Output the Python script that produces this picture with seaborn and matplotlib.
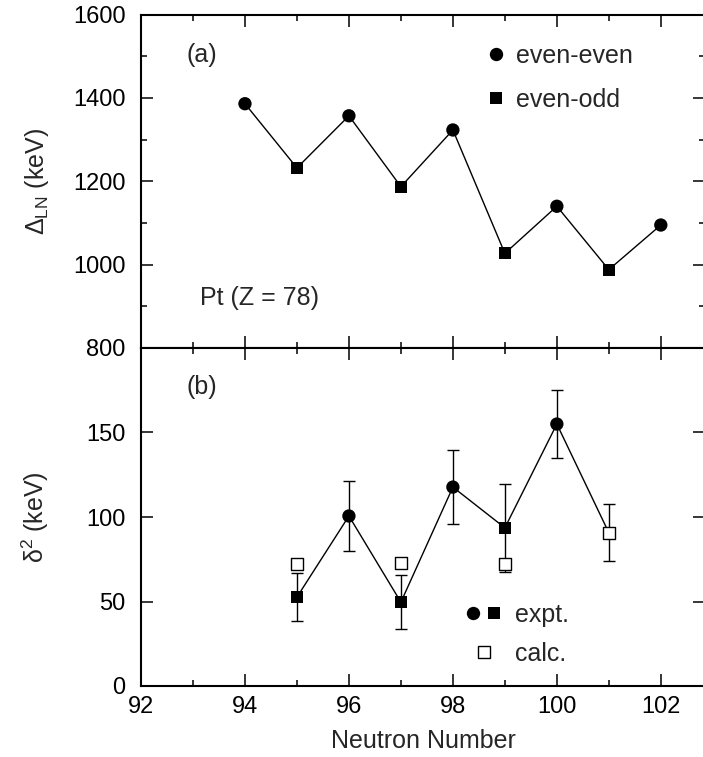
import matplotlib
matplotlib.use("Agg")
import matplotlib.pyplot as plt
import pandas as pd
import seaborn as sns
from matplotlib.lines import Line2D
from matplotlib.legend_handler import HandlerTuple
from matplotlib.ticker import MultipleLocator, NullLocator

# ---- data -------------------------------------------------------------
# (a) odd-even staggering Delta_LN for Pt isotopes
neutrons_a = [94, 95, 96, 97, 98, 99, 100, 101, 102]
delta_ln = [1386, 1232, 1357, 1187, 1323, 1027, 1140, 988, 1095]
parity_a = ["even-even", "even-odd", "even-even", "even-odd", "even-even",
            "even-odd", "even-even", "even-odd", "even-even"]

# (b) second difference delta^2, experiment with uncertainties
neutrons_b = [95, 96, 97, 98, 99, 100, 101]
delta2_expt = [52.6, 100.6, 49.6, 117.7, 93.6, 155.0, 90.7]
delta2_err = [14, 20.5, 16, 22, 26, 20, 17]
parity_b = ["even-odd", "even-even", "even-odd", "even-even",
            "even-odd", "even-even", "even-odd"]

# (b) calculated values
neutrons_calc = [95, 97, 99, 101]
delta2_calc = [72, 73, 72, 90.7]

df_a = pd.DataFrame({"N": neutrons_a, "val": delta_ln, "parity": parity_a})
df_b = pd.DataFrame({"N": neutrons_b, "val": delta2_expt, "err": delta2_err,
                     "parity": parity_b})
df_c = pd.DataFrame({"N": neutrons_calc, "val": delta2_calc})

# ---- style ------------------------------------------------------------
sns.set_theme(style="ticks")
plt.rcParams["font.family"] = ["Liberation Sans", "DejaVu Sans"]
plt.rcParams["mathtext.fontset"] = "custom"
plt.rcParams["mathtext.rm"] = "Liberation Sans"
plt.rcParams["mathtext.it"] = "Liberation Sans:italic"
plt.rcParams["mathtext.default"] = "regular"

FS_TICK = 17
FS = 18
markers = {"even-even": "o", "even-odd": "s"}
S_CIRC, S_SQ = 92, 72

fig = plt.figure(figsize=(7.03, 7.57), dpi=100)
left, width = 141 / 703, (705 - 141) / 703
top, mid, bot = 1 - 14.5 / 757, 1 - 348 / 757, 1 - 686 / 757
ax_a = fig.add_axes([left, mid, width, top - mid])
ax_b = fig.add_axes([left, bot, width, mid - bot])

# ---- panel (a) --------------------------------------------------------
sns.lineplot(data=df_a, x="N", y="val", ax=ax_a, color="black", lw=1.0,
             zorder=2, legend=False)
sns.scatterplot(data=df_a, x="N", y="val", style="parity", markers=markers,
                size="parity", sizes={"even-even": S_CIRC, "even-odd": S_SQ},
                ax=ax_a, color="black", linewidth=0, zorder=3, legend=False)

# ---- panel (b) --------------------------------------------------------
ax_b.errorbar(df_b["N"], df_b["val"], yerr=df_b["err"], fmt="none",
              ecolor="black", elinewidth=1.0, capsize=4, capthick=1.0,
              zorder=1)
sns.lineplot(data=df_b, x="N", y="val", ax=ax_b, color="black", lw=1.0,
             zorder=2, legend=False)
sns.scatterplot(data=df_b, x="N", y="val", style="parity", markers=markers,
                size="parity", sizes={"even-even": S_CIRC, "even-odd": S_SQ},
                ax=ax_b, color="black", linewidth=0, zorder=3, legend=False)
sns.scatterplot(data=df_c, x="N", y="val", marker="s", ax=ax_b,
                facecolor="white", edgecolor="black", s=66, linewidth=1.0,
                zorder=4, legend=False)

# ---- axes formatting --------------------------------------------------
for ax in (ax_a, ax_b):
    ax.set_xlim(92, 102.85)
    ax.xaxis.set_major_locator(MultipleLocator(2))
    ax.xaxis.set_minor_locator(MultipleLocator(1))
    ax.tick_params(which="both", direction="in", top=True, right=True,
                   labelsize=FS_TICK, colors="black")
    ax.tick_params(axis="y", pad=11)
    ax.tick_params(axis="x", pad=7)
    ax.tick_params(which="major", length=8.5, width=1.1)
    ax.tick_params(which="minor", length=4.3, width=1.1)
    for sp in ax.spines.values():
        sp.set_linewidth(1.5)
        sp.set_color("black")
    ax.set_xlabel("")

ax_a.set_ylim(800, 1600)
ax_a.yaxis.set_major_locator(MultipleLocator(200))
ax_a.yaxis.set_minor_locator(MultipleLocator(100))
ax_a.tick_params(axis="x", labelbottom=False)
ax_a.set_ylabel(r"$\Delta_{LN}$ (keV)", fontsize=FS)

ax_b.set_ylim(0, 200)
ax_b.set_yticks([0, 50, 100, 150])
ax_b.yaxis.set_minor_locator(NullLocator())
ax_b.set_xlabel("Neutron Number", fontsize=FS, labelpad=8)
ax_b.set_ylabel(r"$\delta^2$ (keV)", fontsize=FS)

for ax in (ax_a, ax_b):
    ax.yaxis.set_label_coords(-0.16, 0.5)

# ---- annotations ------------------------------------------------------
ax_a.text(0.080, 0.88, "(a)", transform=ax_a.transAxes, fontsize=FS,
          va="center", ha="left")
ax_a.text(0.105, 0.150, "Pt (Z = 78)", transform=ax_a.transAxes,
          fontsize=FS, va="center", ha="left")
ax_b.text(0.080, 0.884, "(b)", transform=ax_b.transAxes, fontsize=FS,
          va="center", ha="left")

# ---- legends ----------------------------------------------------------
def filled(marker, ms):
    return Line2D([], [], ls="none", marker=marker, color="black", ms=ms,
                  markeredgewidth=0)

ax_a.legend([filled("o", 9.6), filled("s", 8.4)], ["even-even", "even-odd"],
            loc="upper left", bbox_to_anchor=(0.612, 0.912), frameon=False,
            fontsize=FS, handlelength=0.8, handletextpad=0.4,
            labelspacing=0.8, borderpad=0, borderaxespad=0)

h_calc = Line2D([], [], ls="none", marker="s", markerfacecolor="white",
                markeredgecolor="black", ms=8.1, markeredgewidth=1.0)
ax_b.legend([(filled("o", 9.6), filled("s", 8.4)), h_calc],
            ["expt.", "calc."], loc="upper left",
            bbox_to_anchor=(0.572, 0.247), frameon=False, fontsize=FS,
            handler_map={tuple: HandlerTuple(ndivide=None, pad=0.1)},
            handlelength=1.6, handletextpad=0.45, labelspacing=0.6,
            borderpad=0, borderaxespad=0)

fig.savefig("out.png", dpi=100)
